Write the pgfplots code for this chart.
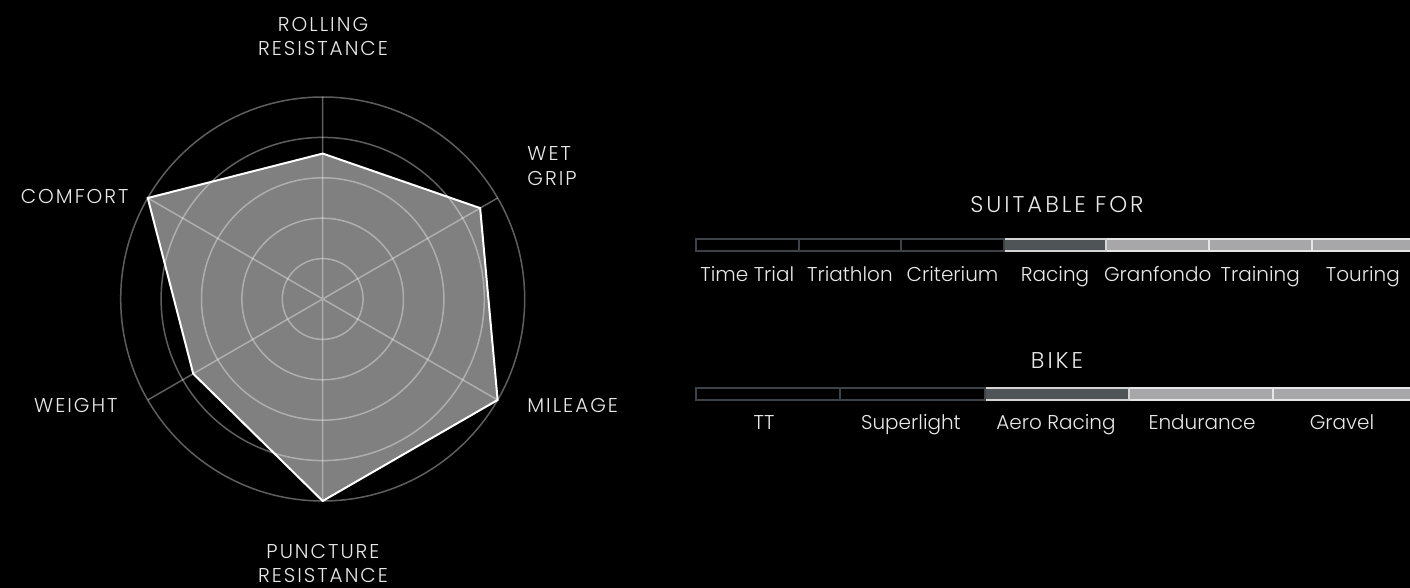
\documentclass[border=0pt]{standalone}
\usepackage{pgfplots}
\pgfplotsset{compat=1.18}
\usepgfplotslibrary{polar}
\usepackage{fontspec}
\IfFontExistsTF{Poppins Light}{\def\fname{Poppins Light}}{\def\fname{Poppins}}
\setmainfont{\fname}
\newfontfamily\capsfont{\fname}[LetterSpace=10]
\newfontfamily\titlefont{\fname}[LetterSpace=13]

\definecolor{txt}{HTML}{E8E8E8}
\definecolor{radarfill}{HTML}{808080}
\definecolor{segdark}{HTML}{3D4246}
\definecolor{segmid}{HTML}{4F5557}
\definecolor{segmidb}{HTML}{D4D4D4}
\definecolor{seglight}{HTML}{A7A6A9}
\definecolor{seglightb}{HTML}{E6E6E6}

\begin{document}
\begin{tikzpicture}[x=0.5pt, y=0.5pt, font=\fontsize{10pt}{12pt}\selectfont, text=txt]
\useasboundingbox (0,0) rectangle (1410,588);
\fill[black] (0,0) rectangle (1410,588);

% radar
\begin{polaraxis}[
    at={(161.35pt,144.5pt)}, anchor=center,
    scale only axis, width=202pt, height=202pt,
    ymin=0, ymax=5,
    xtick={30,90,150,210,270,330},
    ytick={1,2,3,4},
    xticklabels={}, yticklabels={},
    major tick length=0pt,
    grid=major,
    major grid style={draw=white, draw opacity=0.37, line width=0.75pt},
    axis line style={draw=white, draw opacity=0.37, line width=0.75pt},
    y axis line style={draw=none},
    axis on top, clip=false,
]
\addplot[fill=radarfill, draw=white, line width=1pt, line join=miter]
    coordinates {(90,3.6) (30,4.5) (330,5) (270,5) (210,3.7) (150,5)} -- cycle;
\end{polaraxis}

\begin{scope}[every node/.style={inner sep=0, font=\fontsize{10pt}{12pt}\capsfont}]
\node[anchor=base] at (323,556.3) {ROLLING};
\node[anchor=base] at (323,532) {RESISTANCE};
\node[anchor=base west] at (527,427) {WET};
\node[anchor=base west] at (527,402.3) {GRIP};
\node[anchor=base west] at (527,175) {MILEAGE};
\node[anchor=base] at (323,29) {PUNCTURE};
\node[anchor=base] at (323,5.7) {RESISTANCE};
\node[anchor=base east] at (118,175) {WEIGHT};
\node[anchor=base east] at (129,384.7) {COMFORT};
\end{scope}

% suitable for
\begin{axis}[
    at={(348pt,168.35pt)}, anchor=south west,
    scale only axis, width=359.1pt, height=6pt,
    xmin=0, xmax=7, ymin=-0.5, ymax=0.5,
    xbar stacked, bar width=6pt,
    hide axis, clip=false,
]
\addplot[fill=black, draw=segdark, line width=1pt] coordinates {(1,0)};
\addplot[fill=black, draw=segdark, line width=1pt] coordinates {(1,0)};
\addplot[fill=black, draw=segdark, line width=1pt] coordinates {(1,0)};
\addplot[fill=segmid, draw=segmidb, line width=1pt] coordinates {(1,0)};
\addplot[fill=seglight, draw=seglightb, line width=1pt] coordinates {(1,0)};
\addplot[fill=seglight, draw=seglightb, line width=1pt] coordinates {(1,0)};
\addplot[fill=seglight, draw=seglightb, line width=1pt] coordinates {(1,0)};
\end{axis}

\node[anchor=base, inner sep=0, font=\fontsize{11.4pt}{13pt}\titlefont] at (1057,375.3) {SUITABLE FOR};
\foreach \x/\t in {747.3/Time Trial, 849.9/Triathlon, 952.5/Criterium, 1055.1/Racing, 1157.7/Granfondo, 1260.3/Training, 1362.9/Touring}
  \node[anchor=base, inner sep=0] at (\x,306.3) {\t};

% bike
\begin{axis}[
    at={(348pt,93.75pt)}, anchor=south west,
    scale only axis, width=360.75pt, height=6pt,
    xmin=0, xmax=5, ymin=-0.5, ymax=0.5,
    xbar stacked, bar width=6pt,
    hide axis, clip=false,
]
\addplot[fill=black, draw=segdark, line width=1pt] coordinates {(1,0)};
\addplot[fill=black, draw=segdark, line width=1pt] coordinates {(1,0)};
\addplot[fill=segmid, draw=segmidb, line width=1pt] coordinates {(1,0)};
\addplot[fill=seglight, draw=seglightb, line width=1pt] coordinates {(1,0)};
\addplot[fill=seglight, draw=seglightb, line width=1pt] coordinates {(1,0)};
\end{axis}

\node[anchor=base, inner sep=0, font=\fontsize{11.4pt}{13pt}\titlefont] at (1057,219.7) {BIKE};
\foreach \x/\t in {764/TT, 911/Superlight, 1056/Aero Racing, 1202/Endurance, 1342/Gravel}
  \node[anchor=base, inner sep=0] at (\x,158) {\t};
\end{tikzpicture}
\end{document}
